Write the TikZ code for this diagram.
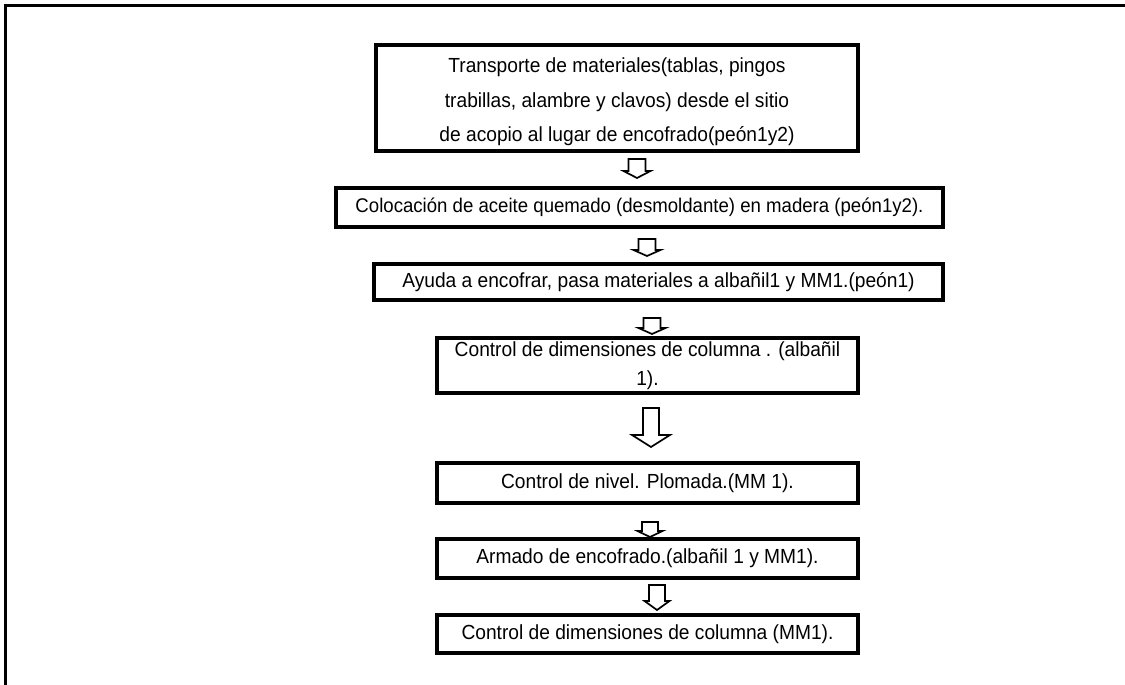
\documentclass[tikz,border=0pt]{standalone}
\usepackage{fontspec}
\setmainfont{Liberation Sans}[FakeStretch=0.94]
\begin{document}
\begin{tikzpicture}[x=1pt,y=-1pt,
  stepbox/.style={draw, line width=3.2pt, inner sep=0pt, align=center,
    font=\fontsize{20.4}{22}\selectfont},
  pics/blockarrow/.style args={#1/#2/#3/#4}{code={
    % #1 length, #2 half stem width, #3 half head width, #4 head length
    \draw[line width=1.7pt, fill=white]
      (-#2,0) -- (#2,0) -- (#2,#1-#4) -- (#3,#1-#4) -- (0,#1)
      -- (-#3,#1-#4) -- (-#2,#1-#4) -- cycle;
  }}
]
\useasboundingbox (0,0) rectangle (1125,685);

% outer frame, open to the right and bottom
\draw[line width=3pt] (5,700) -- (5,6) -- (1140,6);

% process steps
\node[stepbox, minimum width=482pt, minimum height=106pt,
      font=\fontsize{20.4}{34.5}\selectfont] (b1) at (617,98)
  {\rule{0pt}{23pt}Transporte de materiales(tablas, pingos\\
   trabillas, alambre y clavos) desde el sitio\\
   de acopio al lugar de encofrado(peón1y2)};
\node[stepbox, minimum width=607pt, minimum height=39pt,
      font=\fontsize{19.8}{22}\selectfont] (b2) at (639.5,207.5)
  {Colocación de aceite quemado (desmoldante) en madera (peón1y2).};
\node[stepbox, minimum width=569pt, minimum height=36pt] (b3) at (658.5,282)
  {Ayuda a encofrar, pasa materiales a albañil1 y MM1.(peón1)};
\node[stepbox, minimum width=421pt, minimum height=55pt,
      font=\fontsize{20.4}{29}\selectfont] (b4) at (647.5,365.5)
  {Control de dimensiones de columna . (albañil\\ 1).};
\node[stepbox, minimum width=421pt, minimum height=40pt] (b5) at (647.5,483)
  {Control de nivel. Plomada.(MM 1).};
\node[stepbox, minimum width=421pt, minimum height=39pt] (b6) at (647.5,558.5)
  {Armado de encofrado.(albañil 1 y MM1).};
\node[stepbox, minimum width=421pt, minimum height=38pt] (b7) at (647.5,634)
  {Control de dimensiones de columna (MM1).};

% hollow block arrows between the steps
\pic (a1) at (637,159) {blockarrow=19/8.5/13.5/7};
\pic (a2) at (647,239) {blockarrow=17/8.5/13.5/6};
\pic (a3) at (652,318) {blockarrow=16/8.5/13.5/6};
\pic (a4) at (651,408) {blockarrow=39/8/19/12};
\pic (a5) at (650,522) {blockarrow=15/8/12.5/6};
\pic (a6) at (657,585) {blockarrow=25/8/12.5/9};
\end{tikzpicture}
\end{document}
